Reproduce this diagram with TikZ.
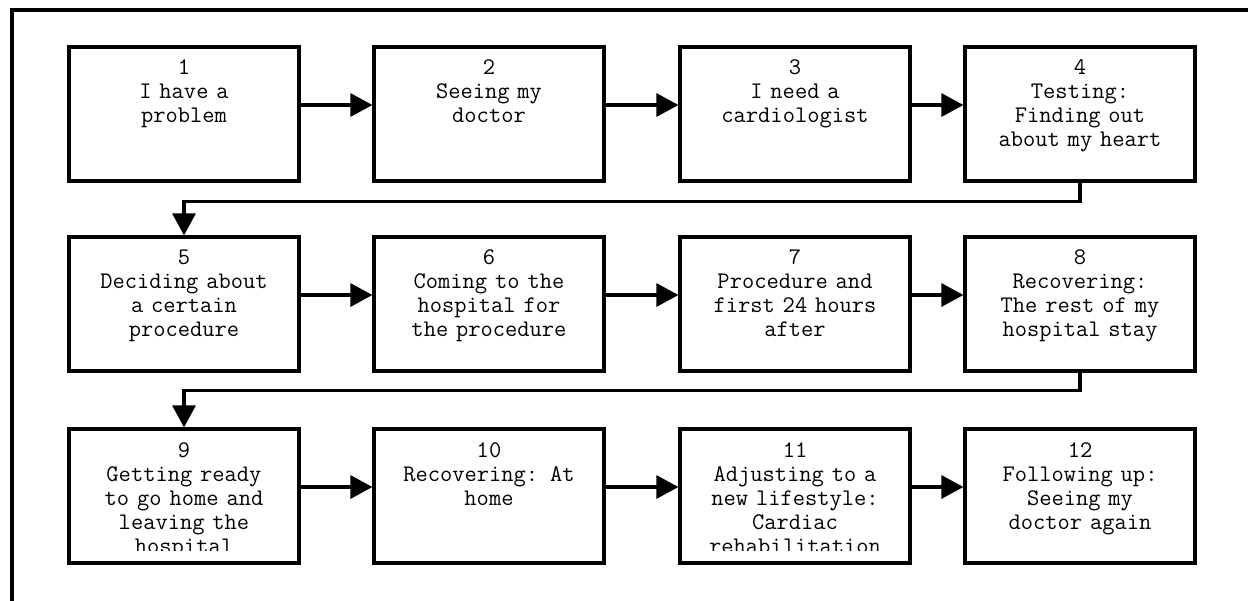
\documentclass[tikz,border=0pt]{standalone}
\usepackage{fontspec}
\usetikzlibrary{arrows.meta}
\tikzset{
  stepbox/.style = {draw=black, line width=1.6pt, minimum width=115pt, minimum height=67pt, inner sep=0pt},
  steptext/.style = {anchor=base, text width=112pt, align=center, inner sep=0pt, font=\ttfamily\fontsize{11.9}{12}\selectfont},
  flow/.style = {draw=black, line width=1.6pt, -{Triangle[length=11pt,width=11.5pt]}},
  frame/.style = {draw=black, line width=1.6pt},
}

\begin{document}
\begin{tikzpicture}[x=0.5pt, y=-0.5pt]
  \useasboundingbox (0,0) rectangle (1248,600);
  \draw[frame] (12,602) -- (12,10) -- (1250,10);

  % first row
  \node[stepbox] (b1) at (184,114) {};
  \node[stepbox] (b2) at (489,114) {};
  \node[stepbox] (b3) at (795,114) {};
  \node[stepbox] (b4) at (1080,114) {};
  \node[steptext] (t1) at ([yshift=-14.5pt]b1.north) {1\\I have a\\problem};
  \node[steptext] (t2) at ([yshift=-14.5pt]b2.north) {2\\Seeing my\\doctor};
  \node[steptext] (t3) at ([yshift=-14.5pt]b3.north) {3\\I need a\\cardiologist};
  \node[steptext] (t4) at ([yshift=-14.5pt]b4.north) {4\\Testing:\\Finding out\\about my heart};

  % second row
  \node[stepbox] (b5) at (184,304) {};
  \node[stepbox] (b6) at (489,304) {};
  \node[stepbox] (b7) at (795,304) {};
  \node[stepbox] (b8) at (1080,304) {};
  \node[steptext] (t5) at ([yshift=-14.5pt]b5.north) {5\\Deciding about\\a certain\\procedure};
  \node[steptext] (t6) at ([yshift=-14.5pt]b6.north) {6\\Coming to the\\hospital for\\the procedure};
  \node[steptext] (t7) at ([yshift=-14.5pt]b7.north) {7\\Procedure and\\first 24 hours\\after};
  \node[steptext] (t8) at ([yshift=-14.5pt]b8.north) {8\\Recovering:\\The rest of my\\hospital stay};

  % third row
  \node[stepbox] (b9) at (184,496) {};
  \node[stepbox] (b10) at (489,496) {};
  \node[stepbox] (b11) at (795,496) {};
  \node[stepbox] (b12) at (1080,496) {};
  \begin{scope}
    \clip ([yshift=7pt]b9.south west) rectangle (b9.north east);
    \node[steptext] (t9) at ([yshift=-15pt]b9.north) {9\\Getting ready\\to go home and\\leaving the\\hospital};
  \end{scope}
  \node[steptext] (t10) at ([yshift=-15pt]b10.north) {10\\Recovering: At\\home};
  \begin{scope}
    \clip ([yshift=7pt]b11.south west) rectangle (b11.north east);
    \node[steptext] (t11) at ([yshift=-15pt]b11.north) {11\\Adjusting to a\\new lifestyle:\\Cardiac\\rehabilitation};
  \end{scope}
  \node[steptext] (t12) at ([yshift=-15pt]b12.north) {12\\Following up:\\Seeing my\\doctor again};

  % arrows along the rows
  \draw[flow] ([yshift=4.5pt]b1.east) -- ([yshift=4.5pt]b2.west);
  \draw[flow] ([yshift=4.5pt]b2.east) -- ([yshift=4.5pt]b3.west);
  \draw[flow] ([yshift=4.5pt]b3.east) -- ([yshift=4.5pt]b4.west);
  \draw[flow] ([yshift=4.5pt]b5.east) -- ([yshift=4.5pt]b6.west);
  \draw[flow] ([yshift=4.5pt]b6.east) -- ([yshift=4.5pt]b7.west);
  \draw[flow] ([yshift=4.5pt]b7.east) -- ([yshift=4.5pt]b8.west);
  \draw[flow] ([yshift=4.5pt]b9.east) -- ([yshift=4.5pt]b10.west);
  \draw[flow] ([yshift=4.5pt]b10.east) -- ([yshift=4.5pt]b11.west);
  \draw[flow] ([yshift=4.5pt]b11.east) -- ([yshift=4.5pt]b12.west);

  % back to the next row
  \draw[flow] (b4.south) -- ++(0,19) -| (b5.north);
  \draw[flow] (b8.south) -- ++(0,18) -| (b9.north);
\end{tikzpicture}
\end{document}
